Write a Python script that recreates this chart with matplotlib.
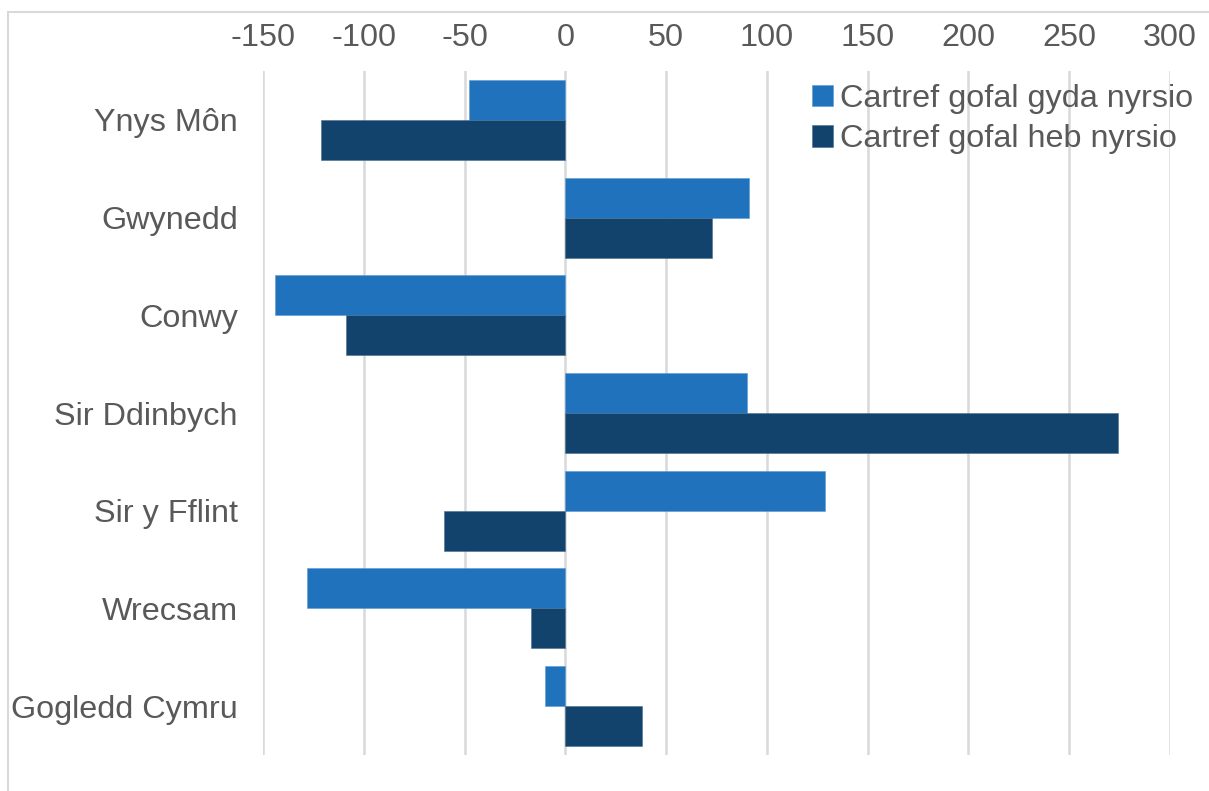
import matplotlib
matplotlib.use("Agg")
import matplotlib.pyplot as plt
import numpy as np
from matplotlib.patches import Rectangle

categories = ["Ynys Môn", "Gwynedd", "Conwy", "Sir Ddinbych", "Sir y Fflint", "Wrecsam", "Gogledd Cymru"]
with_nursing = [-48, 91, -144, 90, 129, -128, -10]
without_nursing = [-121, 73, -109, 274, -60, -17, 38]
series_names = ["Cartref gofal gyda nyrsio", "Cartref gofal heb nyrsio"]
xticks = [-150, -100, -50, 0, 50, 100, 150, 200, 250, 300]

plt.rcParams['font.family'] = ['Liberation Sans', 'DejaVu Sans']
text_color = '#595959'
c_light = '#2072BC'
c_dark = '#12436D'
fs = 23.3

fig = plt.figure(figsize=(12.09, 7.91), dpi=100)
ax = fig.add_axes([263/1209, 1 - 755/791, (1170-263)/1209, (755-71)/791])

fig.patches.append(Rectangle((8/1209, -0.1), 1.2, 1.1 - 12/791, transform=fig.transFigure,
                             fill=False, edgecolor='#D9D9D9', linewidth=1.5, zorder=0))

y = np.arange(len(categories))
h = 0.41
ax.barh(y - h/2, with_nursing, height=h, color=c_light, label=series_names[0],
        edgecolor='#5a9bd5', linewidth=0.4, zorder=3)
ax.barh(y + h/2, without_nursing, height=h, color=c_dark, label=series_names[1],
        edgecolor='#4a6f91', linewidth=0.4, zorder=3)

ax.set_xlim(-150, 300)
ax.set_ylim(len(categories) - 0.5, -0.5)
ax.set_xticks(xticks)
ax.set_xticklabels([str(v) for v in xticks])
ax.set_yticks(y)
ax.set_yticklabels(categories)
ax.xaxis.tick_top()
ax.tick_params(axis='x', length=0, pad=13, labelsize=fs, colors=text_color)
ax.tick_params(axis='y', length=0, pad=18, labelsize=fs, colors=text_color)
for s in ax.spines.values():
    s.set_visible(False)
ax.grid(axis='x', color='#D9D9D9', linewidth=1.8, zorder=0)
ax.set_axisbelow(True)

leg = ax.legend(loc='upper left', bbox_to_anchor=(812/1209, 1 - 84/791), bbox_transform=fig.transFigure,
                frameon=False, fontsize=fs, handlelength=0.65, handleheight=0.65, handletextpad=0.2,
                labelspacing=0.32, borderpad=0, borderaxespad=0)
for t in leg.get_texts():
    t.set_color(text_color)

fig.savefig("out.png", dpi=100)
